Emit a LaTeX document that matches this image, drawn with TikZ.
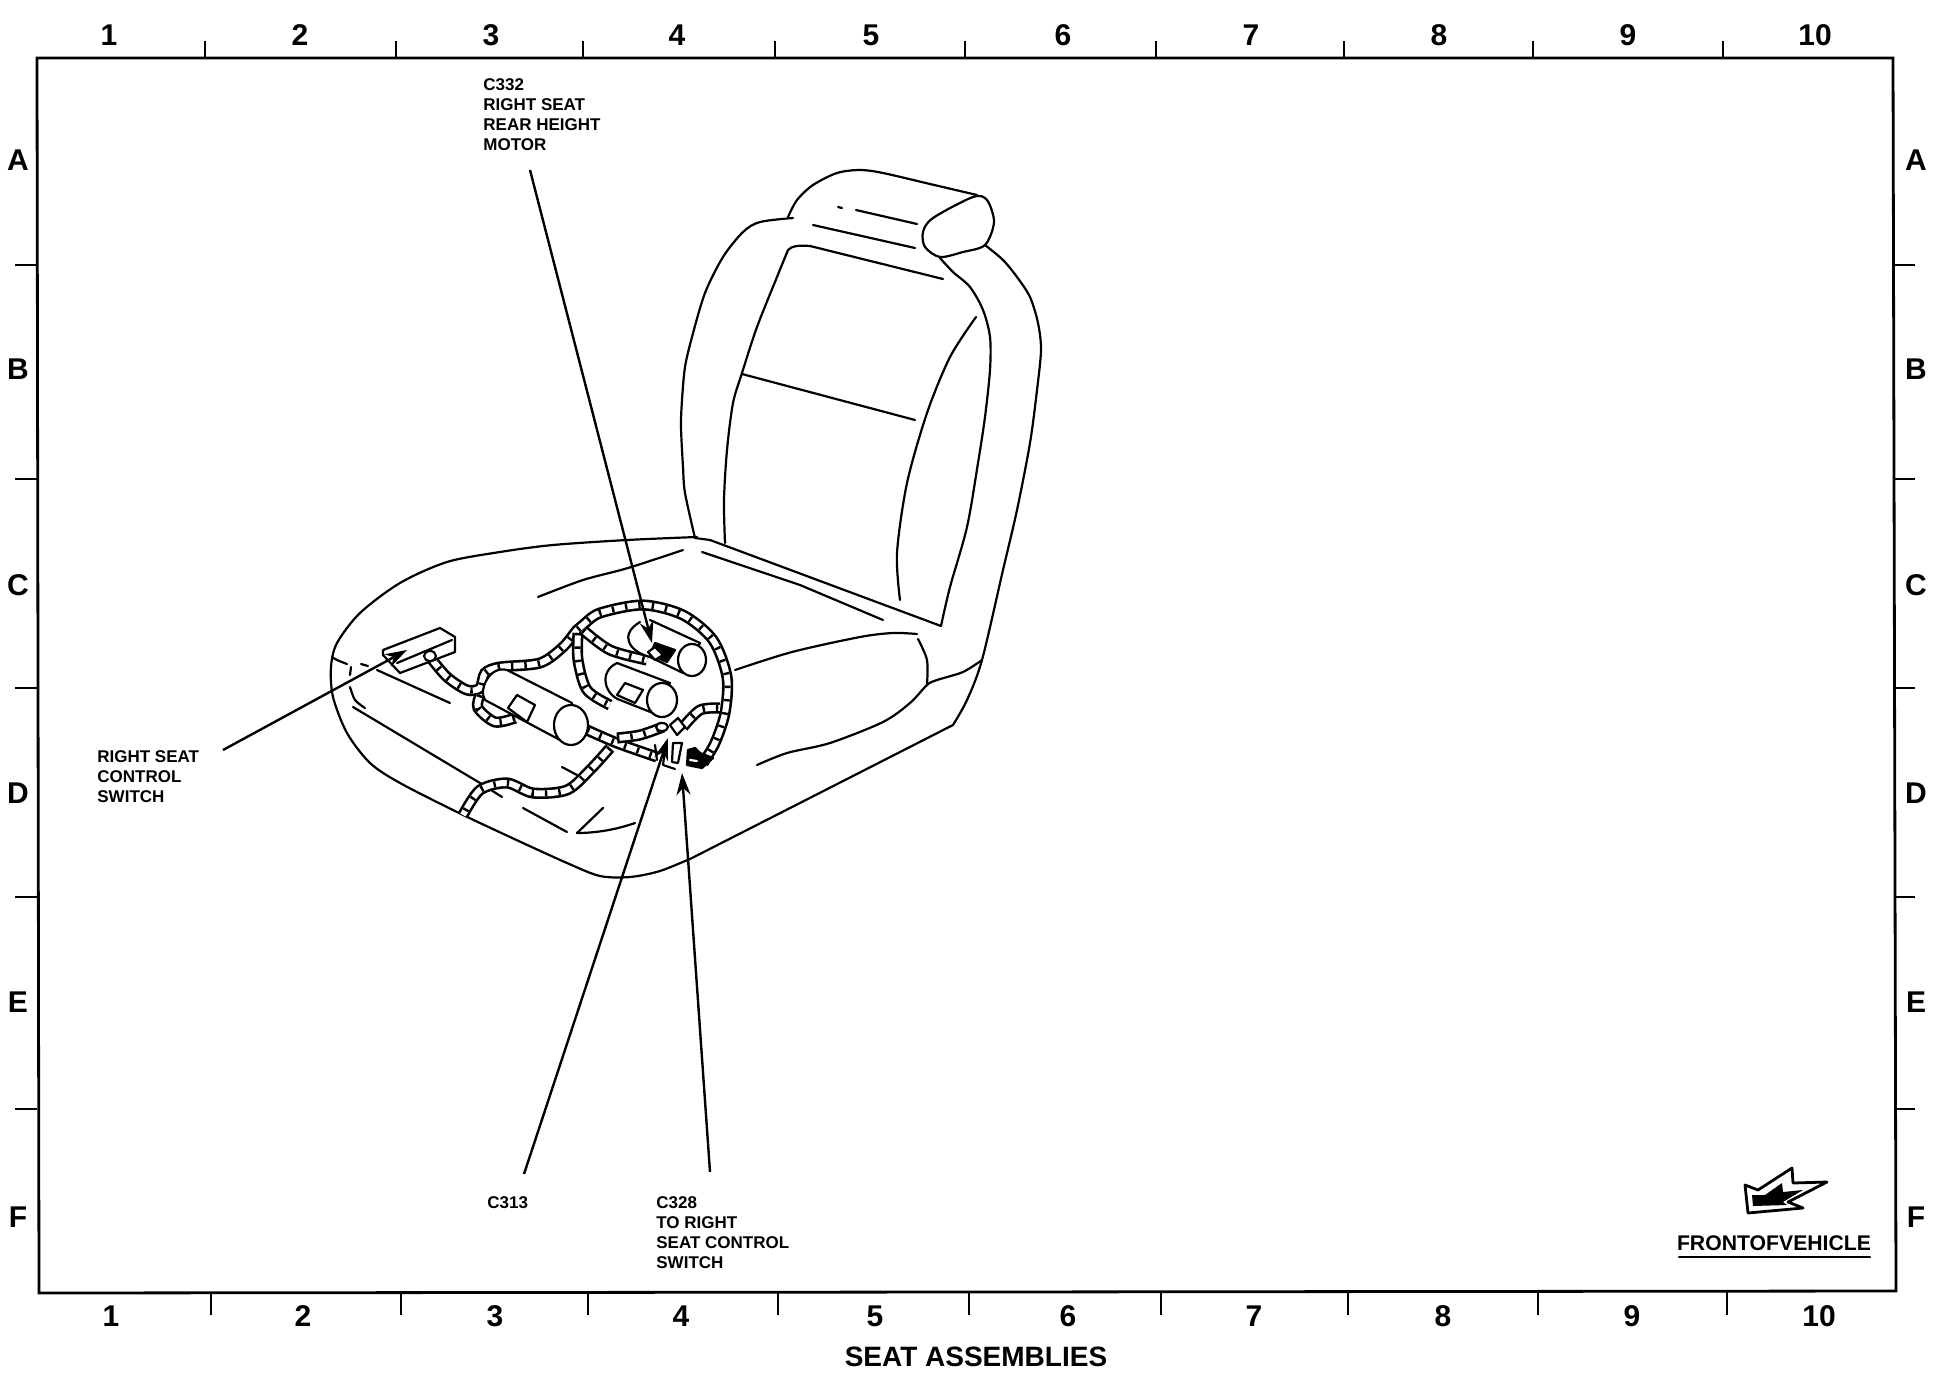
\documentclass[tikz,border=0pt]{standalone}
\usepackage{fontspec}
\setmainfont{Liberation Sans}
\usetikzlibrary{arrows.meta}
\tikzset{
	seatline/.style={line width=1.1pt,line cap=round,line join=round},
	framline/.style={line width=1.4pt},
	wire/.style={preaction={draw=black,line width=5.6pt},draw=white,line width=3pt,
		postaction={draw=black,line width=3pt,dash pattern=on 1.2pt off 5.5pt}},
	motorbody/.style={seatline,fill=white},
	callout/.style={line width=1.2pt,-{Stealth[length=11pt,width=7pt]}},
	gridtext/.style={font=\fontsize{15}{15}\selectfont\bfseries},
	partlabel/.style={font=\fontsize{8.5}{10}\selectfont\bfseries,align=left,anchor=west,inner sep=0pt}
}
\begin{document}
\begin{tikzpicture}[x=.5pt,y=-.5pt]
	\useasboundingbox (0,0) rectangle (1934,1376);
	% frame and grid
	\draw[framline] (37,58)--(1893,58)--(1896,1291)--(39,1293)--cycle;
	\foreach \tick in {205,396,583,775,965,1156,1344,1533,1723}
		\draw[framline] (\tick,41)--(\tick,58);
	\foreach \tick in {211,401,588,778,969,1161,1348,1538,1727}
		\draw[framline] (\tick,1292)--(\tick,1315);
	\foreach \tick in {265,479,688,897,1109}{
		\draw[framline] (15,\tick)--(37,\tick);
		\draw[framline] (1894,\tick)--(1915,\tick);
	}
	\foreach \num/\xtop/\xbot in {1/109/111,2/300/303,3/491/495,4/677/681,5/871/875,6/1063/1068,7/1251/1254,8/1439/1443,9/1628/1632,10/1815/1819}{
		\node[gridtext] (top\num) at (\xtop,35) {\num};
		\node[gridtext] (bot\num) at (\xbot,1316) {\num};
	}
	\foreach \row/\ypos in {A/160,B/369,C/585,D/793,E/1002,F/1217}{
		\node[gridtext] (left\row) at (18,\ypos) {\row};
		\node[gridtext] (right\row) at (1916,\ypos) {\row};
	}
	\node[font=\fontsize{14}{14}\selectfont\bfseries] (title) at (976,1357) {SEAT ASSEMBLIES};
	% seat back
	\draw[seatline] plot[smooth] coordinates {(695,538)(685,493)(683,467)(681,427)(682,400)(685,367)(692,337)(705,293)(723,257)(743,232)(760,222)(793,218)};
	\draw[seatline] plot[smooth] coordinates {(788,217)(797,200)(813,185)(837,173)(860,170)(883,173)(930,184)(977,195)};
	\draw[seatline] plot[smooth cycle] coordinates {(973,197)(987,200)(994,222)(985,245)(963,252)(940,257)(925,247)(923,232)(933,218)};
	\draw[seatline] plot[smooth] coordinates {(985,245)(1003,260)(1017,277)(1030,297)(1038,323)(1041,350)(1037,390)(1030,443)(1017,510)(1003,570)(982,660)(967,700)(953,725)};
	\draw[seatline] plot[smooth] coordinates {(940,258)(953,272)(970,287)(983,310)(990,337)(990,370)(985,417)(978,463)(967,527)(950,587)(941,626)};
	\draw[seatline] (695,538)--(710,540)--(941,626);
	\draw[seatline] plot[smooth] coordinates {(725,543)(724,500)(727,450)(733,403)(742,373)(757,327)(777,277)(788,250)};
	\draw[seatline] (788,250)..controls (791,246) and (800,245)..(810,246)--(943,279);
	\draw[seatline] (742,374)--(915,420);
	\draw[seatline] plot[smooth] coordinates {(976,317)(950,357)(927,413)(907,483)(897,553)(900,600)};
	\draw[seatline] (838,207)--(842,208) (856,210)--(917,224) (813,225)--(915,248);
	% seat cushion
	\draw[seatline] plot[smooth] coordinates {(697,537)(627,540)(553,545)(500,552)(447,562)(400,583)(360,613)(337,643)(331,667)(333,697)(347,733)(370,763)(400,783)(457,812)(510,837)(567,863)(600,876)(630,877)(660,871)(692,858)};
	\draw[seatline] (692,858)--(953,725);
	\draw[seatline] plot[smooth] coordinates {(735,670)(792,652)(860,637)(893,633)(917,634)};
	\draw[seatline] plot[smooth] coordinates {(918,639)(927,660)(927,685)};
	\draw[seatline] plot[smooth] coordinates {(757,765)(787,753)(830,743)(883,722)(910,703)(927,685)(937,680)(963,672)(982,660)};
	\draw[seatline] plot[smooth] coordinates {(332,657)(337,660)(347,664)};
	\draw[seatline] (361,664)--(368,666) (351,667)--(350,675);
	\draw[seatline] (377,670)--(450,703);
	\draw[seatline] plot[smooth] coordinates {(350,687)(355,700)(365,708)};
	\draw[seatline] (353,707)--(480,783)--(502,797);
	\draw[seatline] (562,767)--(577,775) (523,808)--(567,832);
	\draw[seatline] (603,808)--(577,833)..controls (595,833) and (615,830)..(635,823);
	\draw[seatline] plot[smooth] coordinates {(538,597)(583,580)(628,568)(683,550)};
	\draw[seatline] (702,552)--(800,585)--(883,620);
	% harness
	\draw[wire] plot[smooth] coordinates {(430,657)(447,677)(467,690)(480,688)(485,673)(500,667)(540,663)(563,647)(577,630)(583,625)(600,613)(643,605)(683,615)(713,640)(727,677)(725,713)(715,743)(703,763)};
	\draw[wire] plot[smooth] coordinates {(578,633)(578,660)(587,690)(610,705)};
	\draw[wire] plot[smooth] coordinates {(583,630)(610,650)(647,660)};
	\draw[wire] plot[smooth] coordinates {(480,695)(478,708)(495,722)(515,718)};
	\draw[wire] plot[smooth] coordinates {(587,730)(617,743)(657,757)};
	\draw[wire] plot[smooth] coordinates {(617,738)(640,735)(663,727)};
	\draw[wire] plot[smooth] coordinates {(610,748)(590,770)(567,790)(533,793)(507,783)(480,790)(463,815)};
	\draw[wire] plot[smooth] coordinates {(683,727)(700,710)(720,708)};
	% motors
	\draw[motorbody] (507,670)--(572,703)--(560,740)--(485,700)..controls (478,690) and (490,665)..(507,670);
	\draw[motorbody] (571,725) ellipse (17 and 20);
	\draw[motorbody] (508,708)--(517,695)--(535,705)--(527,722)--cycle;
	\draw[motorbody] (617,663)--(670,683)--(653,713)--(620,700)..controls (605,695) and (598,672)..(617,663);
	\draw[motorbody] (662,700) ellipse (15 and 17);
	\draw[motorbody] (617,695)--(625,683)--(643,690)--(635,703)--cycle;
	\draw[motorbody] (650,620)--(700,643)--(683,673)--(650,657)..controls (630,652) and (618,635)..(640,622);
	\draw[motorbody] (692,660) ellipse (14 and 16);
	\draw[seatline,fill=black] (655,643)--(675,650)--(667,662)--(650,655)--cycle;
	\draw[motorbody] (648,652)--(655,647)--(663,655)--(655,660)--cycle;
	% right seat control switch
	\draw[motorbody] (383,650)--(440,628)--(455,637)--(455,652)--(400,673)--(383,655)--cycle;
	\draw[seatline] (397,663)--(452,640);
	\draw[motorbody] (430,656) ellipse (6 and 5);
	% connectors
	\draw[motorbody] (670,725)--(678,718)--(685,727)--(677,735)--cycle;
	\draw[motorbody] (662,727) ellipse (6 and 4);
	\draw[motorbody] (673,743)--(682,743)--(678,763)--(672,762)--cycle;
	\draw[seatline] (666,742)--(663,765)--(675,769);
	\draw[seatline] (655,745)--(657,760);
	\draw[seatline,fill=black] (688,750)--(695,748)--(700,753)--(713,758)--(702,768)--(687,765)--cycle;
	\draw[seatline,white] (690,760)--(697,761);
	% part labels
	\node[partlabel] (motorlabel) at (483,115) {C332\\RIGHT SEAT\\REAR HEIGHT\\MOTOR};
	\node[partlabel] (switchlabel) at (97,777) {RIGHT SEAT\\CONTROL\\SWITCH};
	\node[partlabel] (cthirteen) at (487,1203) {C313};
	\node[partlabel] (ctwentyeight) at (656,1233) {C328\\TO RIGHT\\SEAT CONTROL\\SWITCH};
	\coordinate (motortail) at (530,170);
	\coordinate (motortip) at (652,643);
	\coordinate (switchtail) at (223,750);
	\coordinate (switchtip) at (407,650);
	\coordinate (cthirteentail) at (524,1174);
	\coordinate (cthirteentip) at (668,738);
	\coordinate (ctwentyeighttail) at (710,1172);
	\coordinate (ctwentyeighttip) at (682,773);
	\draw[callout] (motortail)--(motortip);
	\draw[callout] (switchtail)--(switchtip);
	\draw[callout] (cthirteentail)--(cthirteentip);
	\draw[callout] (ctwentyeighttail)--(ctwentyeighttip);
	% front of vehicle
	\draw[seatline,line width=1.4pt] (1745,1185)--(1758,1190)--(1792,1168)--(1793,1183)--(1827,1182)--(1788,1202)--(1803,1208)--(1748,1213)--cycle;
	\fill (1752,1195)--(1765,1195)--(1782,1183)--(1783,1192)--(1803,1190)--(1783,1202)--(1787,1205)--(1753,1206)--cycle;
	\node[font=\fontsize{10.6}{11}\selectfont\bfseries,inner sep=0pt] (frontlabel) at (1774,1243) {FRONTOFVEHICLE};
	\draw[seatline] (1679,1257)--(1870,1257);
\end{tikzpicture}
\end{document}
